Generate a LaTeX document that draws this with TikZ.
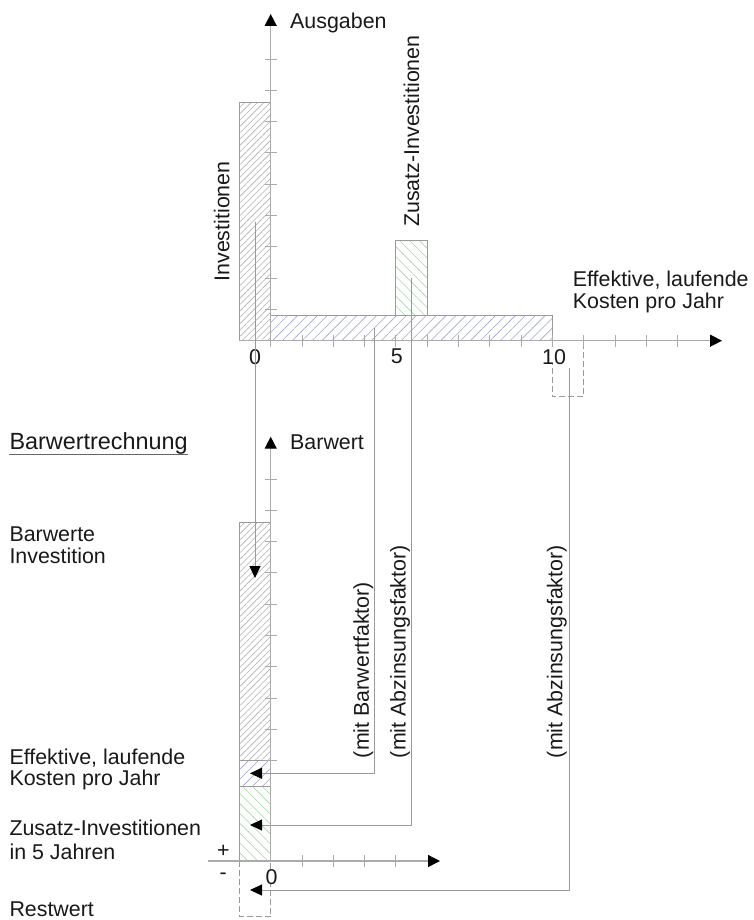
\documentclass[tikz,border=0pt]{standalone}
\usepackage{fontspec}
\setmainfont{Liberation Sans}
\usetikzlibrary{arrows.meta,patterns.meta}

\definecolor{axisgray}{HTML}{ABABAB}
\definecolor{linegray}{HTML}{9A9A9A}
\definecolor{hatchgray}{HTML}{B0B0B0}
\definecolor{hatchblue}{HTML}{A2A2D2}
\definecolor{hatchgreen}{HTML}{A4D8A4}

\tikzset{
  lbl/.style={inner sep=0pt, text=black!90},
  ticklbl/.style={lbl, fill=white},
  bar/.style={draw=linegray, line width=0.9pt},
  restbox/.style={draw=linegray, line width=0.9pt, dash pattern=on 6pt off 3pt},
  hatchinv/.style={pattern={Lines[angle=45,distance=4.5pt,line width=0.6pt]}, pattern color=hatchgray},
  hatchkst/.style={pattern={Lines[angle=45,distance=7pt,line width=0.6pt]}, pattern color=hatchblue},
  hatchzus/.style={pattern={Lines[angle=-45,distance=7pt,line width=0.6pt]}, pattern color=hatchgreen},
  axisline/.style={draw=axisgray, line width=1.4pt, -{Triangle[length=12pt,width=12pt,color=black]}},
  tickmark/.style={draw=axisgray, line width=0.9pt},
  conn/.style={draw=linegray, line width=0.9pt, -{Triangle[length=12pt,width=11pt,color=black]}},
}

\begin{document}
\begin{tikzpicture}[x=1pt, y=-1pt, font=\fontsize{21.4}{22}\selectfont]
\useasboundingbox (0,0) rectangle (753,920);
% Ausgaben: bars
\draw[bar, hatchinv] (239.3,102.7) rectangle (270.7,340.7);
\draw[bar, hatchkst] (270.7,315.7) rectangle (552.4,340.7);
\draw[bar, hatchzus] (395.9,240) rectangle (427.2,315.7);
\draw[restbox] (552.4,340.7) -- (552.4,396.7) -- (583.7,396.7) -- (583.7,340.7);
% Ausgaben: axes and ticks
\foreach \i in {0,...,8}
  \draw[tickmark] (265,{59+31.3*\i}) -- (277,{59+31.3*\i});
\foreach \i in {0,...,13}
  \draw[tickmark] ({270.7+31.3*\i},335) -- ({270.7+31.3*\i},346.7);
\draw[axisline] (239.3,340.7) -- (722,340.7);
\draw[axisline] (270.7,340.7) -- (270.7,14);
\node[ticklbl] (y0) at (255,356.7) {0};
\node[ticklbl] (y5) at (396.7,356.7) {5};
\node[ticklbl] (y10) at (554,356.7) {10};
\node[lbl, anchor=base west] (ausgaben) at (290,28.3) {Ausgaben};
\node[lbl, rotate=90, anchor=west] (invlbl) at (221.7,281.7) {Investitionen};
\node[lbl, rotate=90, anchor=west] (zuslbl) at (411.5,227) {Zusatz-Investitionen};
\node[lbl, anchor=north west, align=left] (kstlbl) at (572.7,270.4)
  {Effektive, laufende\\[0.6pt] Kosten pro Jahr};

% Barwert: bars
\draw[bar, hatchinv] (239.3,522.3) rectangle (270.7,760.7);
\draw[bar, hatchkst] (239.3,760.7) rectangle (270.7,786.5);
\draw[bar, hatchzus] (239.3,786.5) rectangle (270.7,861);
\draw[restbox] (239.3,861) -- (239.3,916.7) -- (270.7,916.7) -- (270.7,861);
% Barwert: axes and ticks
\foreach \i in {0,...,9}
  \draw[tickmark] (265,{479+31.3*\i}) -- (277,{479+31.3*\i});
\foreach \i in {1,...,4}
  \draw[tickmark] ({270.7+31.3*\i},855) -- ({270.7+31.3*\i},867);
\draw[axisline] (208.3,861) -- (440,861);
\draw[axisline] (270.7,861) -- (270.7,436.7);
\node[lbl, anchor=base] (plus) at (223.3,857.4) {+};
\node[lbl, anchor=base] (minus) at (223.3,879.4) {-};
\node[ticklbl] (b0) at (271.5,876.7) {0};
\node[lbl, anchor=base west] (barwert) at (290,449.3) {Barwert};
\node[lbl, anchor=base west, font=\fontsize{23.4}{24}\selectfont] (title) at (9.3,449.3) {Barwertrechnung};
\draw[black!60, line width=0.9pt] (title.south west) -- (title.south east);
\node[lbl, anchor=north west, align=left] (bwinvlbl) at (9.3,526.7)
  {Barwerte\\[0.3pt] Investition};
\node[lbl, anchor=north west, align=left] (bwkstlbl) at (9.3,749)
  {Effektive, laufende\\[-1.3pt] Kosten pro Jahr};
\node[lbl, anchor=north west, align=left] (bwzuslbl) at (9.3,820)
  {Zusatz-Investitionen\\[2pt] in 5 Jahren};
\node[lbl, anchor=base west] (restlbl) at (9.3,916.5) {Restwert};

% Connectors
\coordinate (inv) at (255,221.7);
\coordinate (kst) at (374.3,328);
\coordinate (zus) at (411.7,278);
\coordinate (rest) at (569,368.3);
\coordinate (bwinv) at (255,578);
\coordinate (bwkst) at (250,773.3);
\coordinate (bwzus) at (250,825);
\coordinate (bwrest) at (250,890);
\draw[conn] (inv) -- (bwinv);
\draw[conn] (kst) |- (bwkst);
\draw[conn] (zus) |- (bwzus);
\draw[conn] (rest) |- (bwrest);
\node[lbl, rotate=90, anchor=west] (bwf) at (363.3,758.3) {(mit Barwertfaktor)};
\node[lbl, rotate=90, anchor=west] (azf1) at (400,758.3) {(mit Abzinsungsfaktor)};
\node[lbl, rotate=90, anchor=west] (azf2) at (556.8,758.3) {(mit Abzinsungsfaktor)};
\end{tikzpicture}
\end{document}
